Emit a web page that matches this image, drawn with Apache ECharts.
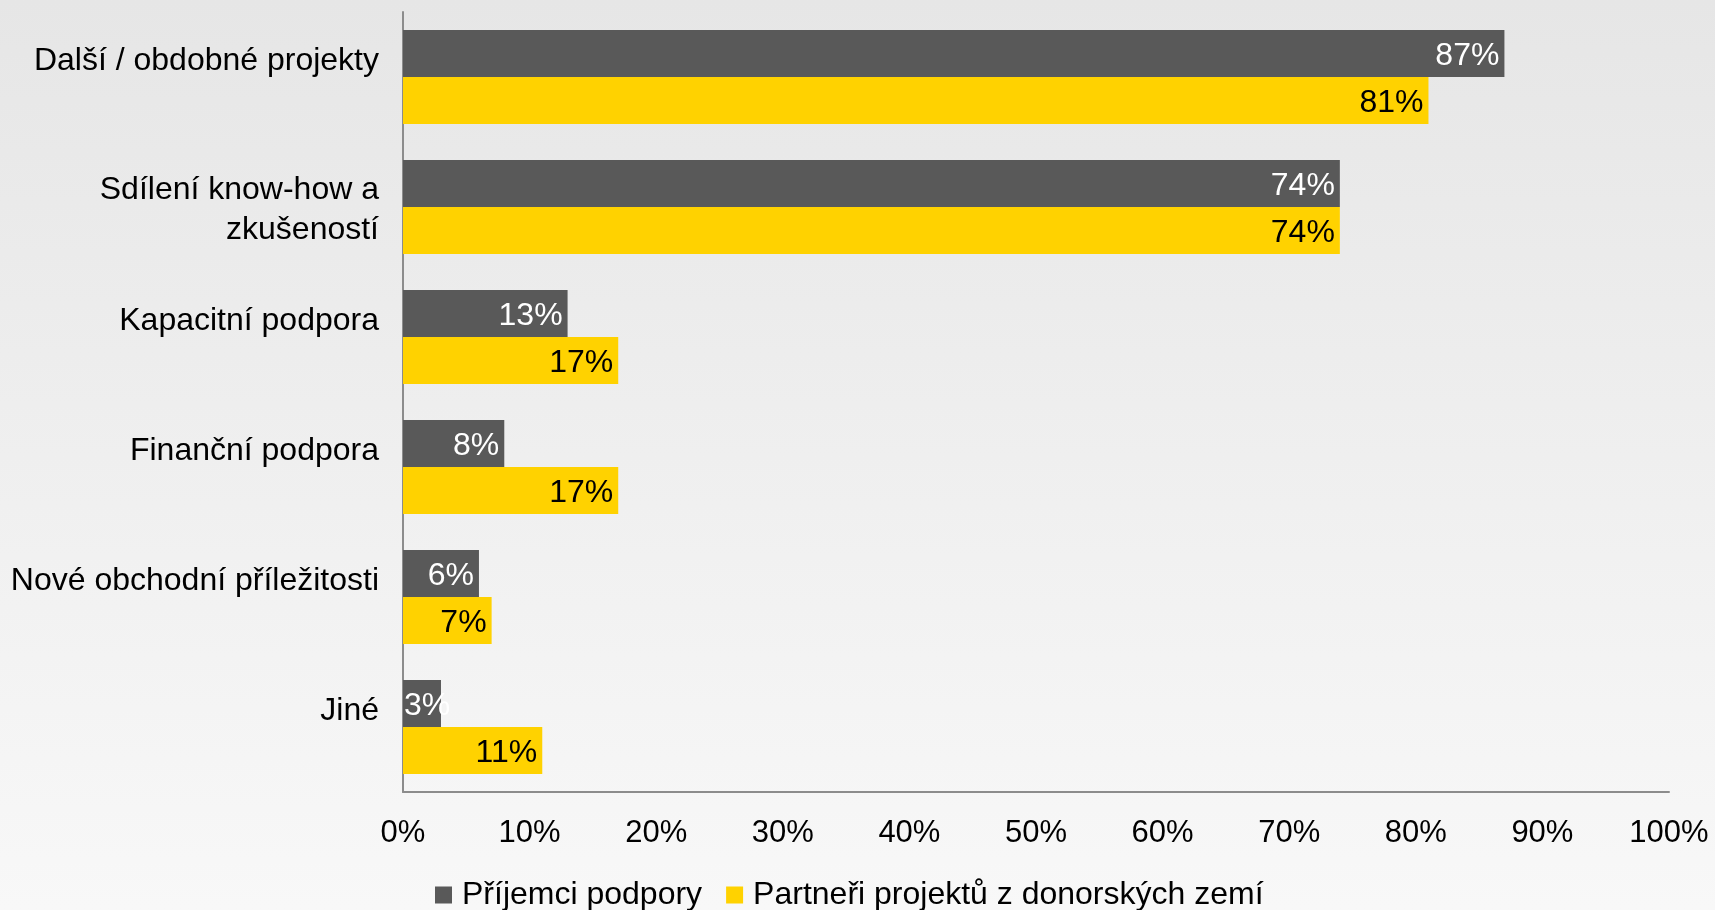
<!DOCTYPE html>
<html>
<head>
<meta charset="utf-8">
<script src="https://cdn.jsdelivr.net/npm/echarts@6/dist/echarts.min.js"></script>
<style>
html,body{margin:0;padding:0;width:1715px;height:910px;overflow:hidden;}
#chart{width:1715px;height:910px;}
</style>
</head>
<body>
<div id="chart"></div>
<script>
const categories = ['Další / obdobné projekty', 'Sdílení know-how a\nzkušeností', 'Kapacitní podpora', 'Finanční podpora', 'Nové obchodní příležitosti', 'Jiné'];
const seriesNames = ['Příjemci podpory', 'Partneři projektů z donorských zemí'];
const recipients = [87, 74, 13, 8, 6, 3];
const partners = [81, 74, 17, 17, 7, 11];
const tickLabelSuffix = '%';

const FONT = 'Liberation Sans, Arial, sans-serif';
const FS = 32;
// labels that do not fit inside a very short bar start at the bar's base instead
function withLabelPlacement(arr) {
  return arr.map(v => v < 5 ? {value: v, label: {position: 'insideLeft', distance: 1}} : v);
}
const chart = echarts.init(document.getElementById('chart'));
chart.setOption({
  backgroundColor: {
    type: 'linear', x: 0, y: 0, x2: 0, y2: 1,
    colorStops: [{offset: 0, color: '#e6e6e6'}, {offset: 1, color: '#f8f8f8'}]
  },
  textStyle: {fontFamily: FONT},
  grid: {left: 403, right: 46, top: 12, bottom: 118, containLabel: false},
  legend: {
    data: seriesNames,
    left: 430, top: 874,
    itemWidth: 17, itemHeight: 17, itemGap: 24,
    icon: 'rect',
    textStyle: {fontSize: FS, color: '#000', fontFamily: FONT, padding: [0, 0, 0, 5]}
  },
  xAxis: {
    type: 'value', min: 0, max: 100, interval: 10,
    axisLine: {show: true, lineStyle: {color: '#8c8c8c', width: 2}},
    axisTick: {show: false},
    splitLine: {show: false},
    axisLabel: {formatter: '{value}' + tickLabelSuffix, fontSize: 31, color: '#000', margin: 26, fontFamily: FONT}
  },
  yAxis: {
    type: 'category', data: categories, inverse: true,
    axisLine: {show: true, lineStyle: {color: '#8c8c8c', width: 2}},
    axisTick: {show: false},
    axisLabel: {
      fontSize: FS, color: '#000', margin: 24, lineHeight: 40, fontFamily: FONT,
      padding: [7, 0, 0, 0],
      formatter: function (v) { return v.indexOf('\n') >= 0 ? v : '{s|' + v + '}'; },
      rich: {s: {fontSize: FS, color: '#000', lineHeight: 40, padding: [0, 0, 39, 0], fontFamily: FONT}}
    }
  },
  series: [
    {
      name: seriesNames[0], type: 'bar', data: withLabelPlacement(recipients),
      barGap: '0%', barCategoryGap: '27.7%',
      itemStyle: {color: '#595959'},
      label: {show: true, position: 'insideRight', distance: 5, offset: [0, 3], formatter: '{c}%', color: '#fff', fontSize: FS, fontFamily: FONT}
    },
    {
      name: seriesNames[1], type: 'bar', data: withLabelPlacement(partners),
      barGap: '0%', barCategoryGap: '27.7%',
      itemStyle: {color: '#ffd200'},
      label: {show: true, position: 'insideRight', distance: 5, offset: [0, 3], formatter: '{c}%', color: '#000', fontSize: FS, fontFamily: FONT}
    }
  ]
});
</script>
</body>
</html>
